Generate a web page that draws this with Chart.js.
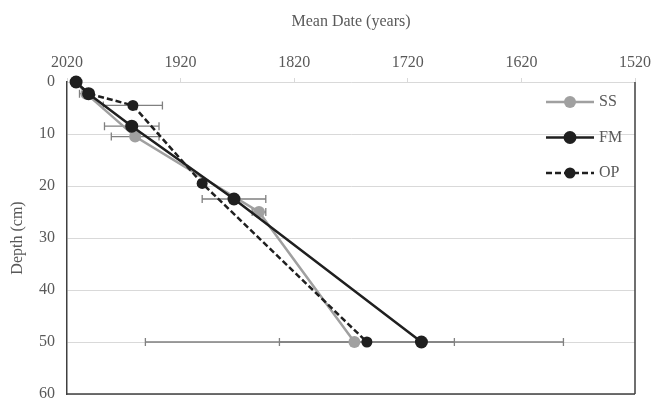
<!DOCTYPE html>
<html>
<head>
<meta charset="utf-8">
<script src="https://cdn.jsdelivr.net/npm/chart.js@4.4.1/dist/chart.umd.min.js"></script>
<style>
  html, body { margin: 0; padding: 0; background: #fff; overflow: hidden; }
  #wrap { width: 654px; height: 399px; overflow: hidden; }
</style>
</head>
<body>
<div id="wrap"><canvas id="depth_chart" width="654" height="404"></canvas></div>
<script>
// series: depth (cm) and mean date (years), error = +/- years
const ssDepth = [0, 2.25, 10.5, 25, 50];
const ssDate = [2012, 2003, 1960, 1851, 1767];
const ssErr = [0, 6, 21, 6, 184];

const fmDepth = [0, 2.25, 8.5, 22.5, 50];
const fmDate = [2012, 2001, 1963, 1873, 1708];
const fmErr = [0, 0, 24, 28, 0];

const opDepth = [0, 2.25, 4.5, 19.5, 50];
const opDate = [2012, 2001, 1962, 1901, 1756];
const opErr = [0, 0, 26, 0, 77];

const dateTicks = [2020, 1920, 1820, 1720, 1620, 1520];
const depthTicks = [0, 10, 20, 30, 40, 50, 60];

const textColor = "#595959";
const serif = "'Liberation Serif', 'Times New Roman', serif";

function points(dates, depths) {
  return dates.map(function (d, i) { return { x: d, y: depths[i] }; });
}

// horizontal error bars, drawn under the lines
const errorBars = {
  id: "errorBars",
  beforeDatasetsDraw(chart) {
    const ctx = chart.ctx;
    const xs = chart.scales.x, ys = chart.scales.y;
    ctx.save();
    ctx.strokeStyle = "#808080";
    ctx.lineWidth = 1.3;
    chart.data.datasets.forEach(function (ds) {
      ds.data.forEach(function (p, i) {
        const e = ds.errors[i];
        if (!e) return;
        const x1 = xs.getPixelForValue(p.x - e);
        const x2 = xs.getPixelForValue(p.x + e);
        const y = ys.getPixelForValue(p.y);
        ctx.beginPath();
        ctx.moveTo(x1, y); ctx.lineTo(x2, y);
        ctx.moveTo(x1, y - 4); ctx.lineTo(x1, y + 4);
        ctx.moveTo(x2, y - 4); ctx.lineTo(x2, y + 4);
        ctx.stroke();
      });
    });
    ctx.restore();
  }
};

// right and bottom frame lines
const frame = {
  id: "frame",
  beforeDatasetsDraw(chart) {
    const a = chart.chartArea, ctx = chart.ctx;
    ctx.save();
    ctx.strokeStyle = "#404040";
    ctx.lineWidth = 1.5;
    ctx.beginPath();
    ctx.moveTo(a.left, a.bottom); ctx.lineTo(a.right, a.bottom);
    ctx.moveTo(a.right, a.top); ctx.lineTo(a.right, a.bottom);
    ctx.stroke();
    ctx.restore();
  }
};

// legend inside plot, top right
const sideLegend = {
  id: "sideLegend",
  afterDraw(chart) {
    const ctx = chart.ctx;
    const a = chart.chartArea;
    const x0 = a.right - 89, x1 = a.right - 41;
    ctx.save();
    ["SS", "FM", "OP"].forEach(function (lbl, k) {
      const ds = chart.data.datasets.find(function (d) { return d.label === lbl; });
      const y = a.top + 20 + k * 35.5;
      ctx.strokeStyle = ds.borderColor;
      ctx.lineWidth = ds.borderWidth;
      ctx.setLineDash(ds.borderDash || []);
      ctx.beginPath();
      ctx.moveTo(x0, y); ctx.lineTo(x1, y);
      ctx.stroke();
      ctx.setLineDash([]);
      ctx.fillStyle = ds.pointBackgroundColor;
      ctx.beginPath();
      ctx.arc((x0 + x1) / 2, y, ds.pointRadius, 0, Math.PI * 2);
      ctx.fill();
      ctx.fillStyle = textColor;
      ctx.font = "16px " + serif;
      ctx.textBaseline = "middle";
      ctx.fillText(lbl, x1 + 5, y);
    });
    ctx.restore();
  }
};

new Chart(document.getElementById("depth_chart"), {
  type: "line",
  data: {
    datasets: [{
        label: "SS",
        data: points(ssDate, ssDepth),
        errors: ssErr,
        borderColor: "#a0a0a0",
        backgroundColor: "#a0a0a0",
        pointBackgroundColor: "#a0a0a0",
        pointBorderWidth: 0,
        pointRadius: 6,
        borderWidth: 2.5,
        order: 3,
        clip: false
      },
      {
        label: "FM",
        data: points(fmDate, fmDepth),
        errors: fmErr,
        borderColor: "#1f1f1f",
        backgroundColor: "#1f1f1f",
        pointBackgroundColor: "#1f1f1f",
        pointBorderWidth: 0,
        pointRadius: 6.5,
        borderWidth: 2.5,
        order: 2,
        clip: false
      },
      {
        label: "OP",
        data: points(opDate, opDepth),
        errors: opErr,
        borderColor: "#1f1f1f",
        backgroundColor: "#1f1f1f",
        pointBackgroundColor: "#1f1f1f",
        pointBorderWidth: 0,
        pointRadius: 5.5,
        borderWidth: 2.5,
        borderDash: [6, 3],
        order: 1,
        clip: false
      }
    ]
  },
  options: {
    responsive: false,
    animation: false,
    layout: { padding: { left: 0, right: 19, top: 0, bottom: 10 } },
    plugins: {
      legend: { display: false },
      tooltip: { enabled: false }
    },
    scales: {
      x: {
        type: "linear",
        position: "top",
        reverse: true,
        min: dateTicks[dateTicks.length - 1],
        max: dateTicks[0],
        afterBuildTicks(scale) {
          scale.ticks = dateTicks.map(function (v) { return { value: v }; });
        },
        afterFit(scale) {
          scale.height = 82;
          scale.paddingLeft = 0;
          scale.paddingRight = 0;
        },
        ticks: {
          color: textColor,
          font: { family: serif, size: 16 },
          padding: 6,
          callback: function (v) { return String(v); }
        },
        grid: {
          drawOnChartArea: false,
          drawTicks: true,
          tickLength: 4,
          color: "#d9d9d9"
        },
        border: { display: false },
        title: {
          display: true,
          text: "Mean Date (years)",
          color: textColor,
          font: { family: serif, size: 16 },
          padding: { top: 12, bottom: 0 }
        }
      },
      y: {
        type: "linear",
        reverse: true,
        min: depthTicks[0],
        max: depthTicks[depthTicks.length - 1],
        afterBuildTicks(scale) {
          scale.ticks = depthTicks.map(function (v) { return { value: v }; });
        },
        afterFit(scale) {
          scale.width = 67;
          scale.paddingTop = 0;
          scale.paddingBottom = 0;
        },
        ticks: {
          color: textColor,
          font: { family: serif, size: 16 },
          padding: 12
        },
        grid: {
          color: "#d9d9d9",
          lineWidth: 1,
          drawTicks: false
        },
        border: { display: true, color: "#404040", width: 1.5 },
        title: {
          display: true,
          text: "Depth (cm)",
          color: textColor,
          font: { family: serif, size: 16 },
          padding: { top: 8, bottom: 0 }
        }
      }
    }
  },
  plugins: [errorBars, frame, sideLegend]
});
</script>
</body>
</html>
